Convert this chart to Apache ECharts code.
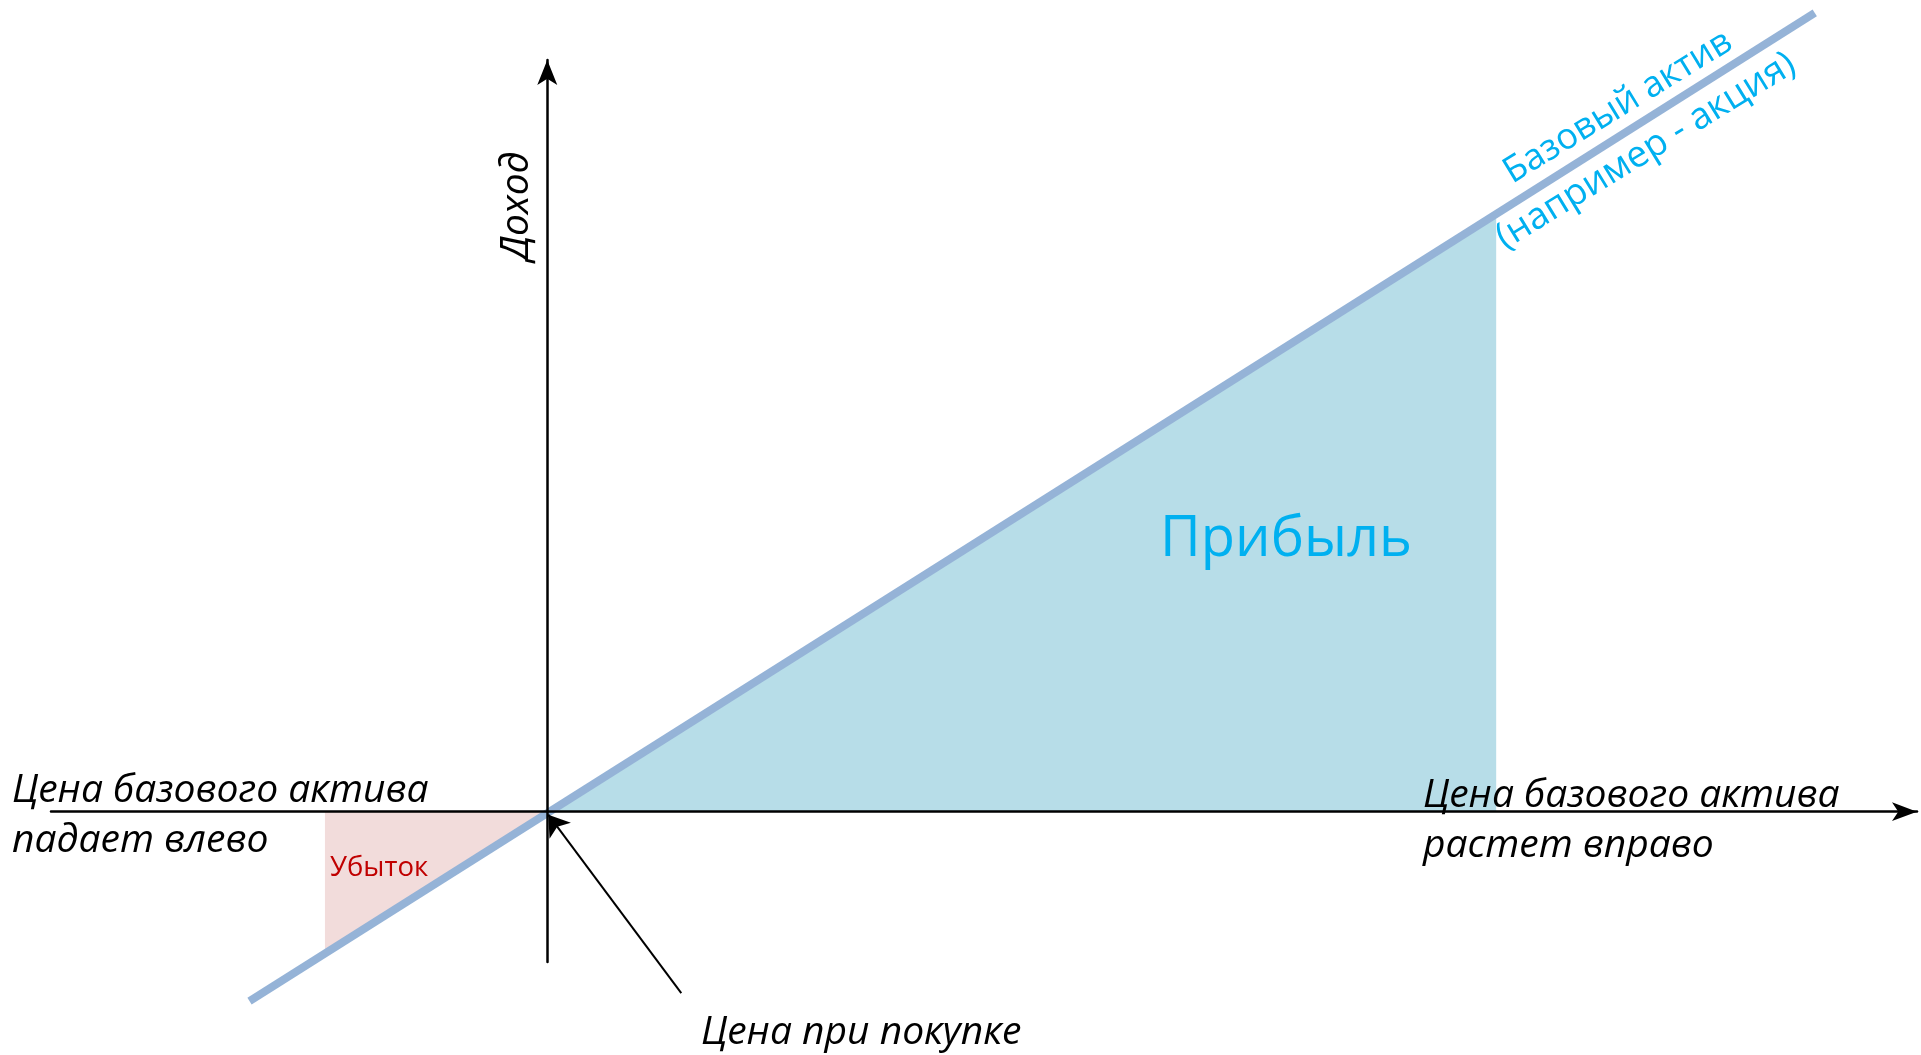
<!DOCTYPE html>
<html>
<head>
<meta charset="utf-8">
<script src="https://cdn.jsdelivr.net/npm/echarts@6/dist/echarts.min.js"></script>
<style>
  html, body { margin: 0; padding: 0; background: #fff; }
  #chart { width: 1921px; height: 1055px; }
</style>
</head>
<body>
<div id="chart"></div>
<script>
// axis ranges (price change / income, arbitrary units)
const xRange = [-50, 138]
const yRange = [-15, 75]

// underlying asset payoff line
const assetLine = [[-30, -18.9], [127.7, 79.7]]
// shaded profit / loss triangles (filled down to zero income)
const profitArea = [[0, 0], [95.6, 59.5]]
const lossArea = [[-22.4, -14], [0, 0]]
// pointer to the purchase price
const buyPointer = [[13.5, -18.1], [0.1, -0.3]]

const LINE_COLOR = '#95B3D7'
const PROFIT_FILL = '#B7DDE8'
const LOSS_FILL = '#F2DCDB'
const BLUE_TEXT = '#00B0F0'
const RED_TEXT = '#C00000'

const FONT = '"Open Sans", "Noto Sans", sans-serif'

const chart = echarts.init(document.getElementById('chart'))

const axisCommon = {
  type: 'value',
  z: 5,
  axisLine: {
    show: true,
    onZero: true,
    symbol: ['none', 'arrow'],
    lineStyle: { color: '#000', width: 2.5 },
  },
  axisTick: { show: false },
  axisLabel: { show: false },
  splitLine: { show: false },
}

function label(x, y, text, font, fill, extra) {
  return {
    type: 'text',
    x,
    y,
    z: 20,
    ...extra,
    style: { text, fill, font: font + ' ' + FONT, align: 'left', verticalAlign: 'middle', ...(extra && extra.style) },
  }
}

chart.setOption({
  animation: false,
  grid: { left: 51, right: 4, top: 60, bottom: 93 },
  xAxis: {
    ...axisCommon,
    min: xRange[0],
    max: xRange[1],
    axisLine: { ...axisCommon.axisLine, symbolSize: [14, 25] },
  },
  yAxis: {
    ...axisCommon,
    min: yRange[0],
    max: yRange[1],
    axisLine: { ...axisCommon.axisLine, symbolSize: [15, 25] },
  },
  series: [
    {
      type: 'line',
      data: profitArea,
      symbol: 'none',
      lineStyle: { width: 0 },
      areaStyle: { color: PROFIT_FILL, opacity: 1 },
      z: 1,
    },
    {
      type: 'line',
      data: lossArea,
      symbol: 'none',
      lineStyle: { width: 0 },
      areaStyle: { color: LOSS_FILL, opacity: 1 },
      z: 1,
    },
    {
      type: 'line',
      data: assetLine,
      symbol: 'none',
      clip: false,
      lineStyle: { width: 8, color: LINE_COLOR, cap: 'butt' },
      z: 3,
    },
    {
      type: 'lines',
      coordinateSystem: 'cartesian2d',
      clip: false,
      symbol: ['none', 'arrow'],
      symbolSize: 20,
      lineStyle: { color: '#000', width: 2, opacity: 1, curveness: 0 },
      data: [{ coords: buyPointer }],
      z: 6,
    },
  ],
  graphic: [
    label(517, 206, 'Доход', 'italic 39px', '#000', { rotation: Math.PI / 2, style: { align: 'center' } }),
    label(12, 791, 'Цена базового актива', 'italic 39px', '#000'),
    label(12, 841, 'падает влево', 'italic 39px', '#000'),
    label(1423, 796, 'Цена базового актива', 'italic 39px', '#000'),
    label(1423, 846, 'растет вправо', 'italic 39px', '#000'),
    label(701, 1033, 'Цена при покупке', 'italic 39px', '#000'),
    label(330, 868, 'Убыток', '27.5px', RED_TEXT),
    label(1160, 540, 'Прибыль', '56px', BLUE_TEXT),
    label(1618, 107, 'Базовый актив', '36px', BLUE_TEXT, { rotation: 0.55, style: { align: 'center' } }),
    label(1646, 151, '(например - акция)', '37px', BLUE_TEXT, { rotation: 0.55, style: { align: 'center' } }),
  ],
})
</script>
</body>
</html>
